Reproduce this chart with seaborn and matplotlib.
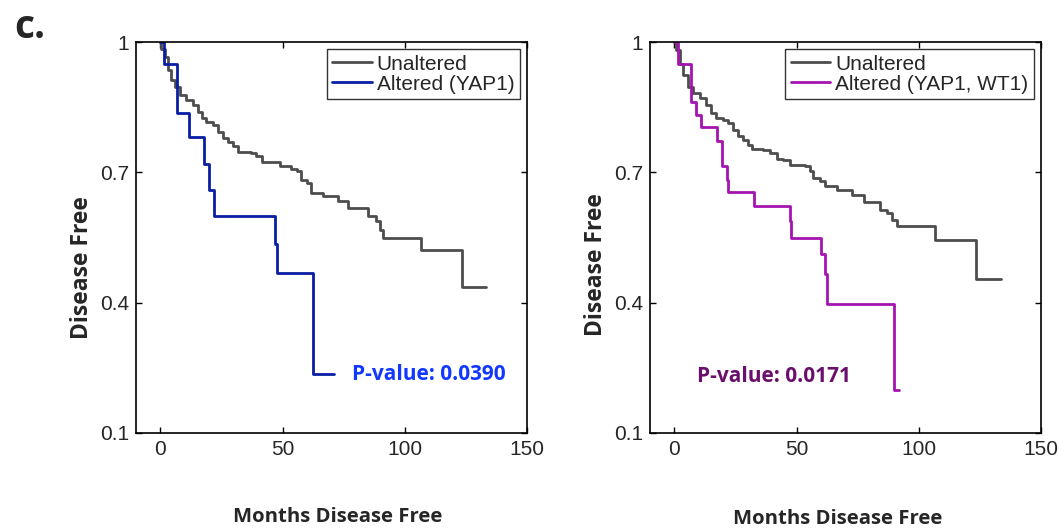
import matplotlib
matplotlib.use("Agg")
import matplotlib.pyplot as plt
import seaborn as sns

# Kaplan-Meier curves: event times (months) and survival after each event
unalt_a_t = [0, 0.4, 1.8, 3.1, 4.5, 5.9, 7.9, 10.6, 13.4, 15.4, 16.8, 18.8, 21.6, 23.6, 25.6,
             27.7, 29.7, 31.8, 34.5, 37.2, 39.3, 41.6, 46.1, 48.8, 53.6, 55.7, 57.7, 59.8,
             61.8, 66.6, 72.7, 76.8, 85.0, 88.4, 89.8, 91.1, 106.8, 123.2, 133.4]
unalt_a_s = [1.0, 0.985, 0.966, 0.936, 0.913, 0.897, 0.878, 0.867, 0.855, 0.840, 0.825, 0.817,
             0.809, 0.794, 0.779, 0.771, 0.760, 0.748, 0.746, 0.744, 0.737, 0.725, 0.723, 0.714,
             0.708, 0.702, 0.683, 0.676, 0.653, 0.645, 0.633, 0.618, 0.599, 0.588, 0.568, 0.549,
             0.522, 0.435, 0.435]

yap1_t = [0, 1.4, 6.8, 11.5, 17.7, 19.9, 21.8, 46.7, 47.5, 62.5, 71.1]
yap1_s = [1.0, 0.949, 0.836, 0.781, 0.720, 0.660, 0.600, 0.536, 0.468, 0.235, 0.235]

unalt_b_t = [0, 0.7, 2.1, 3.4, 5.5, 7.5, 10.3, 13.0, 15.1, 17.1, 19.9, 21.9, 24.0, 26.0, 28.1,
             30.1, 31.9, 36.3, 39.0, 41.8, 44.5, 47.3, 53.4, 55.5, 56.8, 59.6, 61.6, 66.4,
             72.6, 77.4, 84.2, 87.0, 89.0, 91.1, 106.8, 123.6, 133.6]
unalt_b_s = [1.0, 0.982, 0.950, 0.924, 0.897, 0.882, 0.871, 0.855, 0.836, 0.825, 0.821, 0.813,
             0.798, 0.783, 0.775, 0.764, 0.754, 0.752, 0.744, 0.731, 0.729, 0.716, 0.714, 0.702,
             0.687, 0.679, 0.668, 0.660, 0.649, 0.631, 0.614, 0.607, 0.591, 0.576, 0.545, 0.454,
             0.454]

wt1_t = [0, 1.4, 6.8, 8.9, 11.0, 17.5, 19.6, 21.5, 21.9, 32.5, 47.3, 47.9, 59.9, 61.6, 62.6,
         90.0, 91.8]
wt1_s = [1.0, 0.949, 0.863, 0.831, 0.804, 0.773, 0.714, 0.683, 0.655, 0.623, 0.587, 0.549,
         0.511, 0.465, 0.398, 0.198, 0.198]

x_ticks = [0, 50, 100, 150]
y_ticks = [0.1, 0.4, 0.7, 1.0]
y_tick_labels = ["0.1", "0.4", "0.7", "1"]

GRAY = "#4d4d4d"
BLUE = "#0a1ea3"
MAGENTA = "#a314b0"

sns.set_style("ticks")
plt.rcParams["font.family"] = ["Liberation Sans", "DejaVu Sans"]
BOLD_FONT = ["Open Sans", "DejaVu Sans"]

fig = plt.figure(figsize=(10.61, 5.29), dpi=100)
ax1 = fig.add_axes([0.1282, 0.1815, 0.3685, 0.739])
ax2 = fig.add_axes([0.6126, 0.1815, 0.3685, 0.739])

panels = [
    (ax1, unalt_a_t, unalt_a_s, yap1_t, yap1_s, BLUE, "Altered (YAP1)"),
    (ax2, unalt_b_t, unalt_b_s, wt1_t, wt1_s, MAGENTA, "Altered (YAP1, WT1)"),
]

for ax, ut, us, at, asv, col, lab in panels:
    sns.lineplot(x=ut, y=us, ax=ax, color=GRAY, lw=2, drawstyle="steps-post",
                 estimator=None, sort=False, label="Unaltered")
    sns.lineplot(x=at, y=asv, ax=ax, color=col, lw=2, drawstyle="steps-post",
                 estimator=None, sort=False, label=lab)
    ax.set_xlim(-10, 150)
    ax.set_ylim(0.1, 1.0)
    ax.set_xticks(x_ticks)
    ax.set_yticks(y_ticks)
    ax.set_yticklabels(y_tick_labels)
    ax.tick_params(direction="in", top=True, right=True, length=4, width=1,
                   labelsize=15, pad=5, color="black")
    for sp in ax.spines.values():
        sp.set_visible(True)
        sp.set_linewidth(1.2)
        sp.set_color("black")
    ax.set_xlabel("")
    ax.set_ylabel("")
    leg = ax.legend(loc="upper right", fontsize=15, frameon=True, fancybox=False,
                    edgecolor="black", borderaxespad=0.35, handlelength=1.9,
                    borderpad=0.25, labelspacing=0.05, handletextpad=0.25)
    leg.get_frame().set_linewidth(1.0)

# p-values next to the altered curves
ax1.text(78.3, 0.234, "P-value: 0.0390", fontsize=15, fontweight="bold",
         family=BOLD_FONT, color="#1238ff", va="center", ha="left")
ax2.text(9.4, 0.231, "P-value: 0.0171", fontsize=15, fontweight="bold",
         family=BOLD_FONT, color="#6b0f6c", va="center", ha="left")

fig.text(82 / 1061, 1 - 268 / 529, "Disease Free", rotation=90, fontsize=16.5,
         fontweight="bold", family=BOLD_FONT, ha="center", va="center")
fig.text(596 / 1061, 1 - 265 / 529, "Disease Free", rotation=90, fontsize=16.5,
         fontweight="bold", family=BOLD_FONT, ha="center", va="center")
fig.text(338 / 1061, 1 - 517 / 529, "Months Disease Free", fontsize=14.6,
         fontweight="bold", family=BOLD_FONT, ha="center", va="center")
fig.text(838 / 1061, 1 - 519 / 529, "Months Disease Free", fontsize=14.6,
         fontweight="bold", family=BOLD_FONT, ha="center", va="center")
fig.text(30 / 1061, 1 - 28 / 529, "c.", fontsize=28, fontweight="bold",
         family=BOLD_FONT, ha="center", va="center")

fig.savefig("out.png", dpi=100)
